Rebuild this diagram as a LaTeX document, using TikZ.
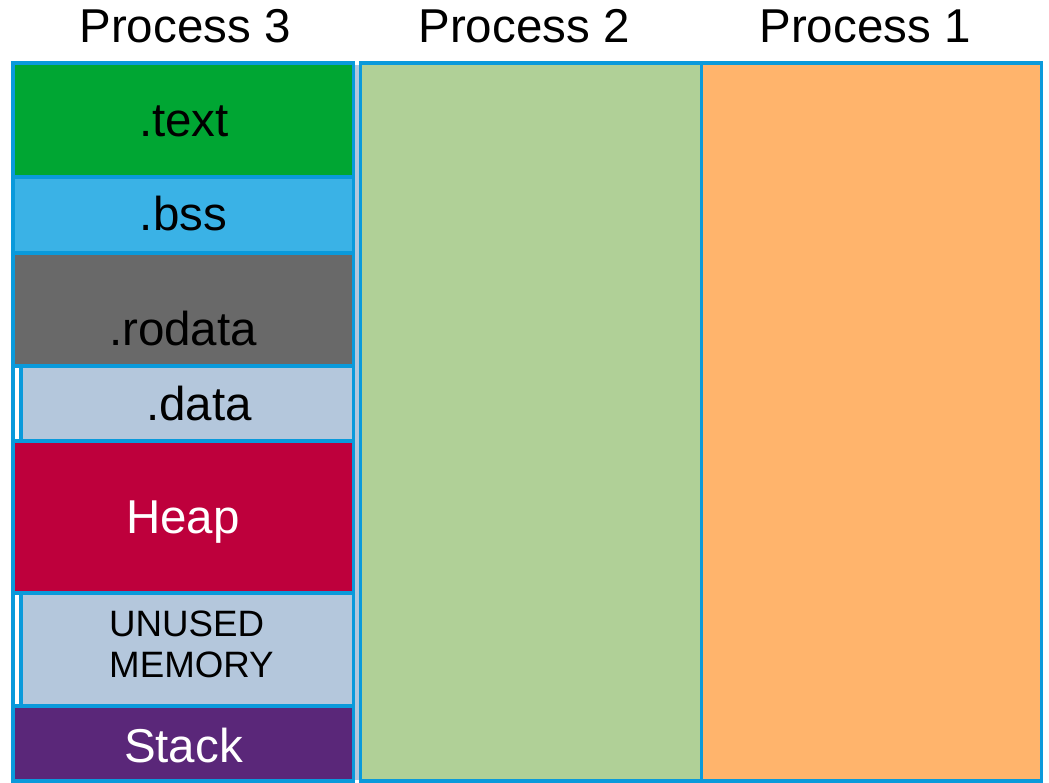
\documentclass[tikz,border=0pt]{standalone}
\usepackage{fontspec}
\setmainfont{Liberation Sans}
\definecolor{lineblue}{HTML}{0A9ADB}
\definecolor{textgreen}{HTML}{00A633}
\definecolor{bssblue}{HTML}{3AB2E6}
\definecolor{rogray}{HTML}{696969}
\definecolor{memblue}{HTML}{B4C7DC}
\definecolor{heapred}{HTML}{BE003C}
\definecolor{stackpurple}{HTML}{5A2779}
\definecolor{ptwogreen}{HTML}{B0D097}
\definecolor{poneorange}{HTML}{FFB46C}
\begin{document}
\begin{tikzpicture}[x=1pt,y=-1pt,
    seg/.style={draw=lineblue,line width=3.5pt},
    lbl/.style={anchor=base,inner sep=0pt,font=\fontsize{47.5}{55}\selectfont},
    whitelbl/.style={lbl,text=white}]
\useasboundingbox (0,0) rectangle (1049,782);
% process columns
    \draw[seg,fill=ptwogreen] (360.5,63) rectangle (701.5,781);
    \draw[seg,fill=poneorange] (701.5,63) rectangle (1041.5,781);
    \fill[memblue] (354,64.5) rectangle (359,779.5);
    \draw[seg,fill=white] (13,63) rectangle (353.5,781);
% segments of process 3
    \draw[seg,fill=textgreen] (13,63) rectangle (353.5,177);
    \draw[seg,fill=bssblue] (13,177) rectangle (353.5,253);
    \draw[seg,fill=rogray] (13,253) rectangle (353.5,366);
    \draw[seg,fill=memblue] (20.8,366) rectangle (353.5,441);
    \draw[seg,fill=heapred] (13,441) rectangle (353.5,593);
    \draw[seg,fill=memblue] (20.8,593) rectangle (353.5,706);
    \draw[seg,fill=stackpurple] (13,706) rectangle (353.5,781);
% labels
    \node[lbl] (pthree) at (185,42) {Process 3};
    \node[lbl] (ptwo) at (524,42) {Process 2};
    \node[lbl] (pone) at (865,42) {Process 1};
    \node[lbl] (ltext) at (184,136) {.text};
    \node[lbl] (lbss) at (183.5,230) {.bss};
    \node[lbl] (lrodata) at (183,345) {.rodata};
    \node[lbl] (ldata) at (199,420) {.data};
    \node[whitelbl] (lheap) at (183,533) {Heap};
    \node[lbl,anchor=base west,align=left,font=\fontsize{36.7}{41}\selectfont] (lunused) at (109,677) {UNUSED\\MEMORY};
    \node[whitelbl] (lstack) at (183.5,762) {Stack};
\end{tikzpicture}
\end{document}
